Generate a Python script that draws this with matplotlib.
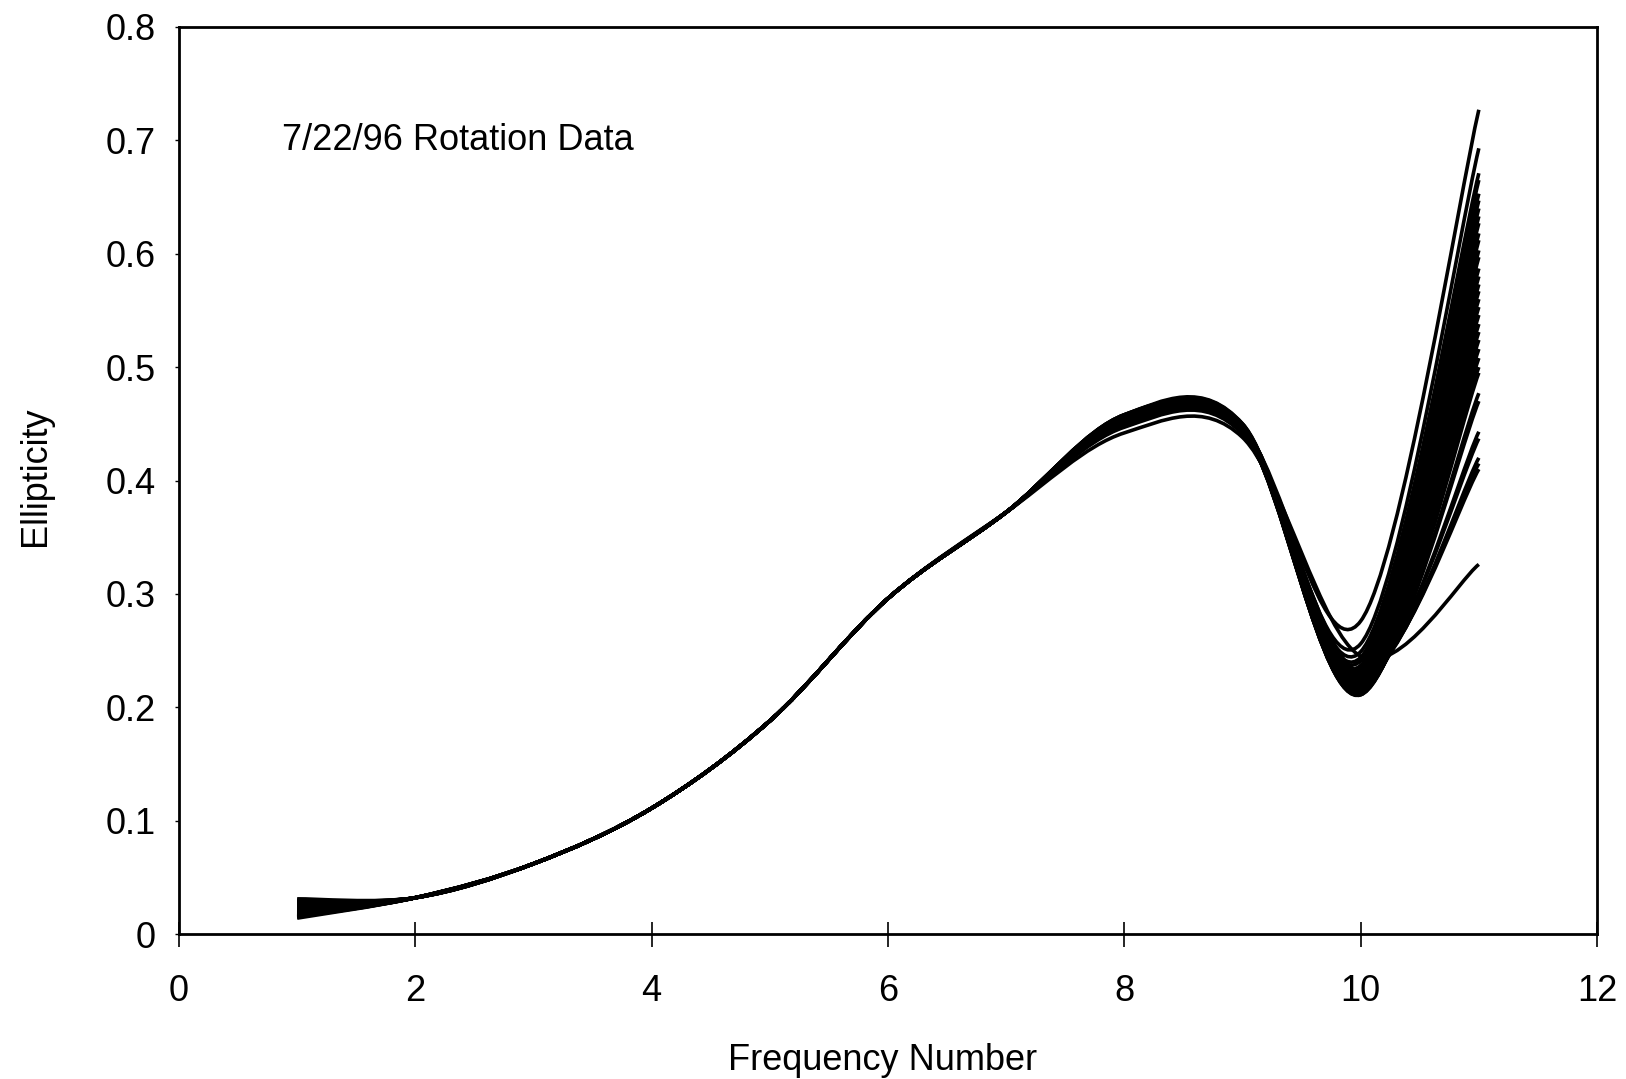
import numpy as np
import matplotlib
matplotlib.use("Agg")
import matplotlib.pyplot as plt
from matplotlib.path import Path
from matplotlib.patches import PathPatch

plt.rcParams["font.family"] = ["Liberation Sans", "DejaVu Sans"]

freq = [1, 2, 3, 4, 5, 6, 7, 8, 9, 10, 11]

# ellipticity shared by all runs at frequency numbers 2..7
shared_mid = [0.032, 0.062, 0.111, 0.188, 0.296, 0.372]

# per-run values, one entry per run (sorted by value at frequency 11)
start_1 = [0.031, 0.029, 0.027, 0.030, 0.025, 0.028, 0.022, 0.026, 0.020, 0.024,
           0.018, 0.027, 0.016, 0.023, 0.021, 0.019, 0.025, 0.017, 0.015, 0.022,
           0.028, 0.020, 0.024, 0.018, 0.026, 0.016, 0.023, 0.019, 0.021, 0.017,
           0.029, 0.015, 0.025, 0.014, 0.022]
peak_8 = [0.455, 0.457, 0.456, 0.458, 0.455, 0.457, 0.456, 0.458, 0.454, 0.457,
          0.456, 0.455, 0.458, 0.457, 0.455, 0.456, 0.457, 0.454, 0.456, 0.455,
          0.457, 0.456, 0.455, 0.457, 0.454, 0.456, 0.455, 0.453, 0.452, 0.451,
          0.450, 0.449, 0.448, 0.447, 0.442]
fall_9 = [0.446, 0.448, 0.447, 0.449, 0.446, 0.450, 0.447, 0.448, 0.445, 0.449,
          0.447, 0.446, 0.450, 0.448, 0.446, 0.447, 0.449, 0.445, 0.448, 0.446,
          0.447, 0.449, 0.446, 0.448, 0.445, 0.447, 0.446, 0.444, 0.445, 0.443,
          0.444, 0.442, 0.443, 0.441, 0.438]
dip_10 = [0.276, 0.256, 0.249, 0.244, 0.241, 0.237, 0.234, 0.232, 0.230, 0.227,
          0.225, 0.223, 0.222, 0.220, 0.218, 0.217, 0.216, 0.215, 0.214, 0.213,
          0.212, 0.212, 0.211, 0.211, 0.212, 0.213, 0.214, 0.216, 0.218, 0.223,
          0.225, 0.227, 0.229, 0.231, 0.245]
end_11 = [0.727, 0.693, 0.671, 0.665, 0.653, 0.647, 0.640, 0.633, 0.627, 0.618,
          0.612, 0.603, 0.597, 0.587, 0.580, 0.573, 0.567, 0.560, 0.553, 0.546,
          0.538, 0.531, 0.524, 0.516, 0.508, 0.500, 0.495, 0.477, 0.470, 0.443,
          0.437, 0.420, 0.415, 0.410, 0.326]

y_ticks = [0, 0.1, 0.2, 0.3, 0.4, 0.5, 0.6, 0.7, 0.8]
y_labels = ["0", "0.1", "0.2", "0.3", "0.4", "0.5", "0.6", "0.7", "0.8"]
x_ticks = [0, 2, 4, 6, 8, 10, 12]


def smooth_path(xs, ys):
    # spreadsheet-style smoothed line: Catmull-Rom segments as cubic Beziers
    pts = np.column_stack([xs, ys]).astype(float)
    ext = np.vstack([pts[0], pts, pts[-1]])
    verts = [pts[0]]
    codes = [Path.MOVETO]
    for k in range(len(pts) - 1):
        p0, p1, p2, p3 = ext[k], ext[k + 1], ext[k + 2], ext[k + 3]
        verts += [p1 + (p2 - p0) / 6, p2 - (p3 - p1) / 6, p2]
        codes += [Path.CURVE4] * 3
    return Path(verts, codes)


fig = plt.figure(figsize=(16.26, 10.79), dpi=100)
ax = fig.add_axes([179 / 1626, 1 - 934 / 1079, 1418 / 1626, 907 / 1079])

for i in range(len(end_11)):
    run = [start_1[i]] + shared_mid + [peak_8[i], fall_9[i], dip_10[i], end_11[i]]
    ax.add_patch(PathPatch(smooth_path(freq, run), fill=False, ec="black",
                           lw=2.6, capstyle="butt", joinstyle="round"))

ax.set_xlim(0, 12)
ax.set_ylim(0, 0.8)
ax.set_xticks(x_ticks)
ax.set_yticks(y_ticks)
ax.set_yticklabels(y_labels)
ax.tick_params(axis="x", direction="inout", length=18, width=1.2, pad=20,
               labelsize=26)
ax.tick_params(axis="y", direction="out", length=3, width=1, pad=14,
               labelsize=26)
for sp in ax.spines.values():
    sp.set_linewidth(2)

ax.text(0.87, 0.70, "7/22/96 Rotation Data", fontsize=26, ha="left", va="center")
fig.text(36 / 1626, 1 - 476 / 1079, "Ellipticity", fontsize=26, rotation=90,
         ha="center", va="center")
fig.text(883 / 1626, 9 / 1079, "Frequency Number", fontsize=26, ha="center",
         va="baseline")

fig.savefig("out.png", dpi=100)
